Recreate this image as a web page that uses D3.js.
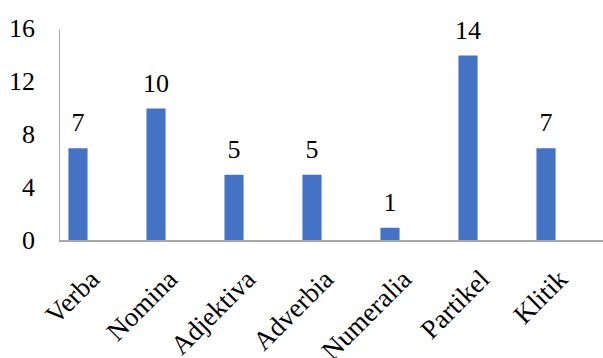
<!DOCTYPE html>
<html>
<head>
<meta charset="utf-8">
<script src="https://cdn.jsdelivr.net/npm/d3@7"></script>
<style>
  html, body { margin: 0; padding: 0; background: #fff; }
  svg { display: block; }
  text { font-family: "Liberation Serif", "Times New Roman", serif; fill: #000; }
</style>
</head>
<body>
<svg id="chart" width="603" height="358"></svg>
<script>
// Word classes and their counts
const categories = ["Verba", "Nomina", "Adjektiva", "Adverbia", "Numeralia", "Partikel", "Klitik"];
const counts = [7, 10, 5, 5, 1, 14, 7];
const yTicks = [0, 4, 8, 12, 16];

const svg = d3.select("#chart");
const axisX0 = 59, axisX1 = 603;
const yBottom = 241, yTop = 29;

const x = d3.scaleBand()
  .domain(categories)
  .range([39, 585])
  .paddingInner(0.755)
  .paddingOuter(0.3775);

const y = d3.scaleLinear().domain([0, 16]).range([yBottom, yTop]);

// Bars
svg.append("g").selectAll("rect")
  .data(categories)
  .join("rect")
  .attr("x", d => x(d))
  .attr("width", x.bandwidth())
  .attr("y", (d, i) => y(counts[i]))
  .attr("height", (d, i) => y(0) - y(counts[i]))
  .attr("fill", "#4472C4");

// Value labels above bars
svg.append("g").selectAll("text")
  .data(categories)
  .join("text")
  .attr("x", d => x(d) + x.bandwidth() / 2)
  .attr("y", (d, i) => y(counts[i]) - 17)
  .attr("text-anchor", "middle")
  .attr("font-size", 26)
  .text((d, i) => counts[i]);

// Y axis: line plus labels, no tick marks
const yAxis = svg.append("g")
  .attr("transform", `translate(${axisX0},0)`)
  .call(d3.axisLeft(y).tickValues(yTicks).tickSize(0).tickPadding(24).tickFormat(d3.format("d")));
yAxis.select(".domain").attr("stroke", "#b0b0b0").attr("stroke-width", 1.2);
yAxis.selectAll("text")
  .attr("font-size", 26)
  .attr("fill", "#000")
  .attr("dy", "0.3em");

// X axis baseline
svg.append("line")
  .attr("x1", axisX0).attr("x2", axisX1)
  .attr("y1", yBottom).attr("y2", yBottom)
  .attr("stroke", "#a6a6a6").attr("stroke-width", 2);

// Rotated category labels
svg.append("g").selectAll("text")
  .data(categories)
  .join("text")
  .attr("text-anchor", "end")
  .attr("font-size", 27)
  .attr("transform", d => `translate(${x(d) + x.bandwidth() / 2 + 23},${yBottom + 40}) rotate(-45)`)
  .text(d => d);
</script>
</body>
</html>
